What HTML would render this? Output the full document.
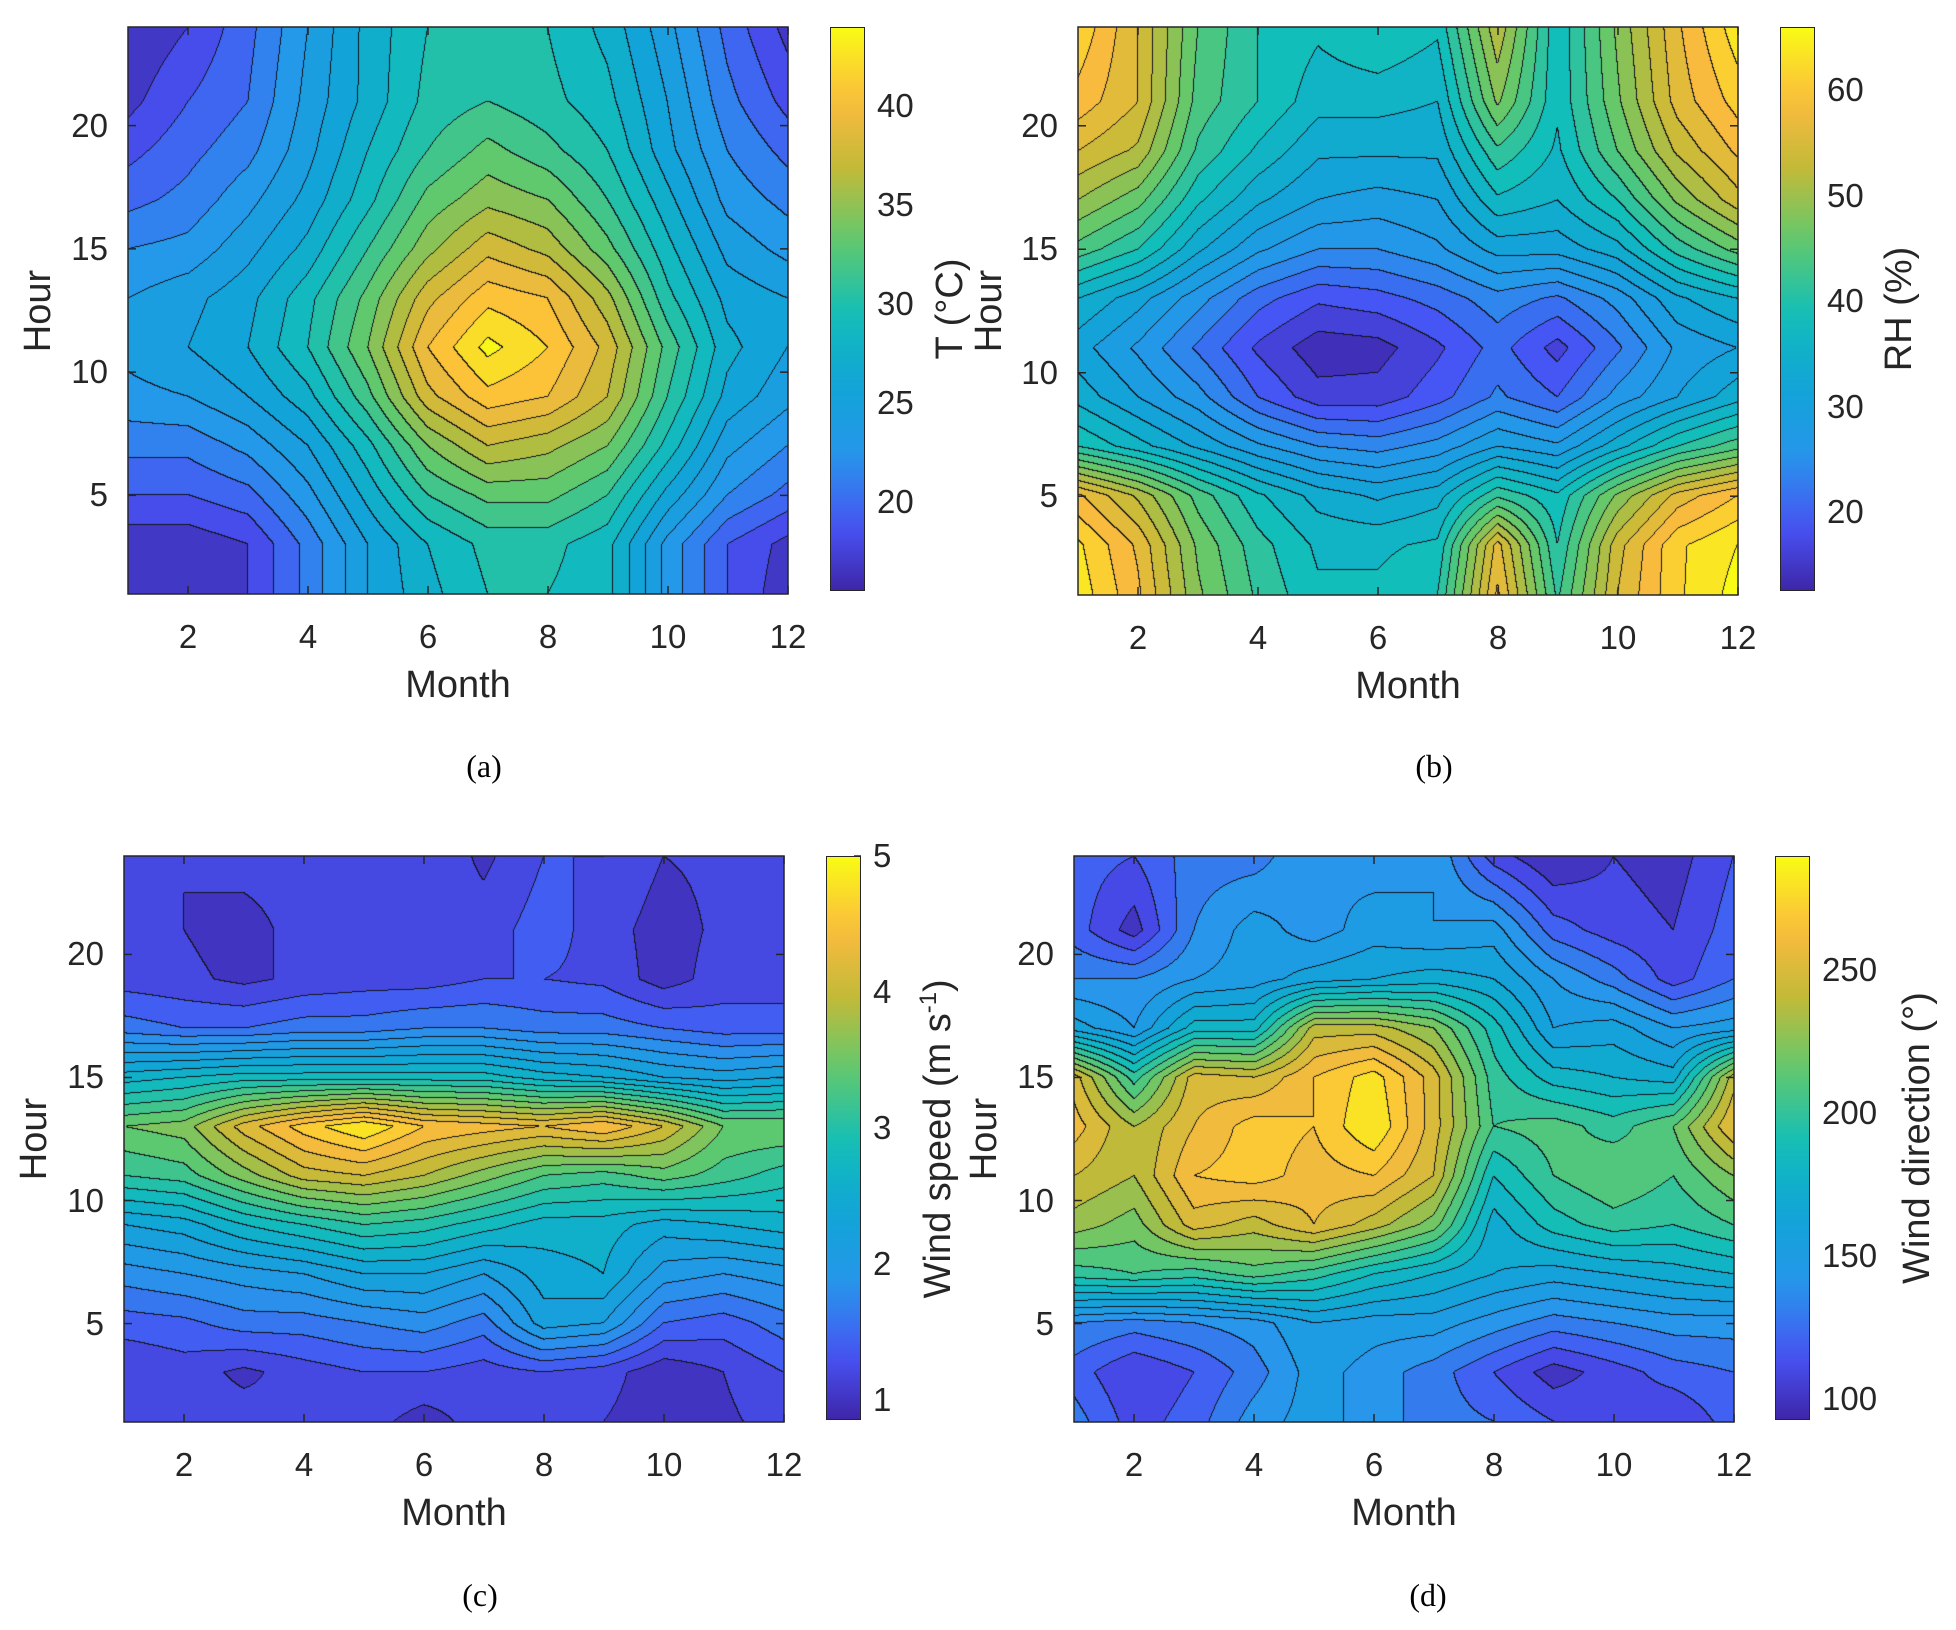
<!DOCTYPE html>
<html><head><meta charset="utf-8">
<style>
body{margin:0;background:#fff;width:1956px;height:1630px;position:relative;overflow:hidden;font-family:"Liberation Sans",Arial,sans-serif;color:#262626}
.abs{position:absolute}
.tk{position:absolute;font-size:33px;line-height:1;white-space:nowrap}
.lab{position:absolute;font-size:38px;line-height:1;white-space:nowrap}
.cap{position:absolute;font-family:"Liberation Serif",serif;font-size:32px;color:#000}
canvas{position:absolute}
</style></head>
<body>
<div id="root"></div>
<script>
// ---------- data ----------
const months=[1,2,3,4,5,6,7,8,9,10,11,12];
const hours=[1,3,5,7,9,11,13,15,17,19,21,24];
const xTicks=[2,4,6,8,10,12];
const yTicks=[5,10,15,20];
const tempGrid=[
[17,16.5,17.5,21,25,27.5,29.5,29.5,28.5,23,19,16.5],
[16.5,16.5,17.5,21,25,28,30,30,28.5,23,19,17],
[19,19,20,23,27,31,33,33,31,26,22,20],
[21,21,22.5,25,29,34,37,36,34,29,24,22],
[23,23.5,25,27.5,32,38,41,40,37,31,26,24],
[24,25,26.5,29.5,34,40,43.5,41.5,38,32,27,25],
[23.5,24.5,26,29,33,38,41,40,36,30,26,25],
[22,22.5,24.5,27,31,35,38,36.5,33,28.5,24.5,23],
[20,21,23,25.5,29,33,35,34,31,27,23,21.5],
[18.5,20,21.5,24.5,28,31,33,31.5,29.5,25.5,22,20],
[17,19,20.5,24,27,30,31,30,28.5,25,21,18.5],
[16,17.5,20,23.5,27,29.5,30,29.5,27.5,24,20,17]];
const rhGrid=[
[64,58,48,42,38,38,40,58,42,55,62,66],
[63,57,47,41,37,37,38,56,40,54,62,65],
[58,52,44,38,34,32,34,42,38,48,56,60],
[40,36,32,28,25,24,26,30,28,34,40,44],
[34,30,26,20,16,16,19,23,20,26,30,34],
[31,27,22,17,13.5,14,17,21,16.5,22,28,30],
[35,31,26,21,18,19,21,24,22,26,32,35],
[44,40,33,28,25,25,27,31,31,34,41,46],
[50,46,38,33,30,29,30,37,35,40,48,54],
[55,52,42,37,33,33,33,42,37,45,53,58],
[59,55,44,40,36,36,35,48,38,47,56,61],
[62,55,45,40,38,40,38,52,38,48,57,64]];
const wsGrid=[
[1.1,1.2,1.2,1.1,1.2,1.0,1.2,1.2,1.1,0.95,1.05,1.2],
[1.1,1.2,1.05,1.2,1.3,1.3,1.2,1.3,1.2,0.95,1.1,1.3],
[1.4,1.45,1.6,1.6,1.7,1.8,1.6,2.2,2.1,1.5,1.4,1.6],
[1.8,1.9,2.0,2.1,2.3,2.3,2.1,2.4,2.5,2.0,1.9,2.0],
[2.3,2.4,2.7,2.9,3.1,3.0,2.8,2.6,2.6,2.4,2.5,2.6],
[3.1,3.2,3.6,4.0,4.1,3.9,3.6,3.3,3.2,3.4,3.2,3.0],
[3.5,3.6,4.2,4.6,4.9,4.5,4.4,4.3,4.5,4.1,3.5,3.5],
[2.6,2.7,2.8,2.8,2.8,2.8,2.8,2.6,2.5,2.3,2.2,2.3],
[1.6,1.5,1.5,1.6,1.6,1.7,1.7,1.6,1.6,1.5,1.4,1.4],
[1.2,1.15,1.05,1.15,1.2,1.2,1.3,1.3,1.25,1.0,1.2,1.2],
[1.2,1.1,1.0,1.2,1.25,1.2,1.2,1.4,1.2,1.0,1.15,1.2],
[1.2,1.1,1.2,1.2,1.2,1.3,1.05,1.3,1.3,1.1,1.15,1.25]];
const wdGrid=[
[130,110,120,140,150,140,130,125,115,110,105,120],
[120,105,115,130,150,140,130,115,100,110,120,125],
[135,130,135,140,155,150,150,140,130,135,140,140],
[200,205,200,210,200,185,175,165,160,165,170,175],
[230,220,250,240,255,240,220,170,190,200,195,205],
[245,235,265,270,260,265,245,185,205,215,205,225],
[260,235,255,270,265,285,250,205,210,200,215,255],
[250,200,250,245,265,280,250,200,180,175,170,240],
[160,145,180,180,240,240,225,190,155,160,145,150],
[135,135,145,150,160,165,170,165,145,130,110,125],
[120,100,135,150,140,150,145,150,120,110,105,120],
[120,115,130,130,145,140,145,110,95,105,100,115]];
const tempTicks=[20,25,30,35,40];
const rhTicks=[20,30,40,50,60];
const wsTicks=[1,2,3,4,5];
const wdTicks=[100,150,200,250];

// ---------- colormap ----------
const PAR=[[0,62,38,168],[0.11,72,82,244],[0.24,39,150,235],[0.37,16,165,214],[0.49,18,190,185],[0.62,95,201,110],[0.75,194,186,56],[0.87,252,187,62],[1,249,251,21]];
function parula(t){t=Math.max(0,Math.min(1,t));for(let i=1;i<PAR.length;i++){if(t<=PAR[i][0]){const a=PAR[i-1],b=PAR[i],f=(t-a[0])/(b[0]-a[0]);return [a[1]+f*(b[1]-a[1]),a[2]+f*(b[2]-a[2]),a[3]+f*(b[3]-a[3])];}}return PAR[PAR.length-1].slice(1);}

function interp(grid,m,h){
  let j=0;while(j<hours.length-2&&h>hours[j+1])j++;
  let i=Math.min(10,Math.max(0,Math.floor(m-1)));
  const fx=Math.max(0,Math.min(1,m-months[i])),fy=Math.max(0,Math.min(1,(h-hours[j])/(hours[j+1]-hours[j])));
  const a=grid[j][i],b=grid[j][i+1],c=grid[j+1][i],d=grid[j+1][i+1];
  return a*(1-fx)*(1-fy)+b*fx*(1-fy)+c*(1-fx)*fy+d*fx*fy;
}

const root=document.getElementById('root');
function mk(tag,cls,name,inter){const e=document.createElement(tag);if(cls)e.className=cls;


root.appendChild(e);return e;}

function panel(p){
  const W=p.x1-p.x0,H=p.y1-p.y0;
  const xs=m=>p.x0+(m-1)/11*W, ys=h=>p.y1-(h-1)/23*H;
  const cv=mk('canvas','',p.id+'-contour-plot',false);
  cv.width=W;cv.height=H;cv.style.left=p.x0+'px';cv.style.top=p.y0+'px';
  const ctx=cv.getContext('2d');const img=ctx.createImageData(W,H);
  const band=new Int16Array(W*H);
  for(let y=0;y<H;y++){const h=1+23*(H-1-y)/(H-1);for(let x=0;x<W;x++){const m=1+11*x/(W-1);
    const v=interp(p.grid,m,h);band[y*W+x]=Math.floor((v-p.lmin)/p.step);}}
  for(let y=0;y<H;y++)for(let x=0;x<W;x++){const k=y*W+x,b=band[k];
    let c;const edge=(x<W-1&&band[k+1]!==b)||(y<H-1&&band[k+W]!==b);
    if(edge)c=[20,20,30];else{const mid=p.lmin+(b+0.5)*p.step;c=parula((mid-p.cmin)/(p.cmax-p.cmin));}
    img.data[k*4]=c[0];img.data[k*4+1]=c[1];img.data[k*4+2]=c[2];img.data[k*4+3]=255;}
  ctx.putImageData(img,0,0);
  const NS='http://www.w3.org/2000/svg';
  const svg=document.createElementNS(NS,'svg');
  
  
  svg.setAttribute('width',1956);svg.setAttribute('height',1630);
  svg.style.position='absolute';svg.style.left='0';svg.style.top='0';
  root.appendChild(svg);
  const line=(x1,y1,x2,y2)=>{const l=document.createElementNS(NS,'line');l.setAttribute('x1',x1);l.setAttribute('y1',y1);l.setAttribute('x2',x2);l.setAttribute('y2',y2);l.setAttribute('stroke','#262626');l.setAttribute('stroke-width','1.5');svg.appendChild(l);};
  const r=document.createElementNS(NS,'rect');r.setAttribute('x',p.x0);r.setAttribute('y',p.y0);r.setAttribute('width',W);r.setAttribute('height',H);r.setAttribute('fill','none');r.setAttribute('stroke','#262626');r.setAttribute('stroke-width','1.5');svg.appendChild(r);
  xTicks.forEach(t=>{const x=xs(t);line(x,p.y1,x,p.y1-8);line(x,p.y0,x,p.y0+8);
    const d=mk('div','tk',p.id+'-x-tick-'+t,false);d.textContent=t;d.style.left=(x-30)+'px';d.style.width='60px';d.style.textAlign='center';d.style.top=(p.y1+26)+'px';});
  yTicks.forEach(t=>{const y=ys(t);line(p.x0,y,p.x0+8,y);line(p.x1,y,p.x1-8,y);
    const d=mk('div','tk',p.id+'-y-tick-'+t,false);d.textContent=t;d.style.left=(p.x0-82)+'px';d.style.width='62px';d.style.textAlign='right';d.style.top=(y-17)+'px';});
  const xl=mk('div','lab',p.id+'-x-axis-title',false);xl.textContent='Month';xl.style.left=(p.x0+W/2-100)+'px';xl.style.width='200px';xl.style.textAlign='center';xl.style.top=(p.y1+72)+'px';
  const yl=mk('div','lab',p.id+'-y-axis-title',false);yl.textContent='Hour';yl.style.left=(p.hx-100)+'px';yl.style.width='200px';yl.style.textAlign='center';yl.style.top=((p.y0+p.y1)/2-19)+'px';yl.style.transform='rotate(-90deg)';
  const cb=mk('div','abs',p.id+'-colorbar',false);
  const cbH=p.cby1-p.y0;
  let stops=[];for(let i=0;i<=20;i++){const c=parula(i/20);stops.push('rgb('+c.map(Math.round).join(',')+') '+(100-i*5)+'%');}
  cb.style.cssText='position:absolute;left:'+p.cbx+'px;top:'+p.y0+'px;width:35px;height:'+cbH+'px;box-sizing:border-box;border:1.5px solid #262626;background:linear-gradient(to bottom,'+stops.reverse().join(',')+')';
  p.cticks.forEach(t=>{const y=p.cby1-(t-p.cmin)/(p.cmax-p.cmin)*cbH;
    line(p.cbx+35,y,p.cbx+28,y);
    const d=mk('div','tk',p.id+'-colorbar-tick-'+t,false);d.textContent=t;d.style.left=(p.cbx+47)+'px';d.style.top=(y-17)+'px';});
  const ct=mk('div','lab',p.id+'-colorbar-title',false);ct.innerHTML=p.ctitle;ct.style.left=(p.ctx-220)+'px';ct.style.width='440px';ct.style.textAlign='center';ct.style.top=((p.y0+p.cby1)/2-19)+'px';ct.style.transform='rotate(-90deg)';
  const cap=mk('div','cap',p.id+'-caption',false);cap.textContent=p.cap;cap.style.left=(p.capx-30)+'px';cap.style.width='60px';cap.style.textAlign='center';cap.style.top=(p.capy-18)+'px';
}
panel({id:'temperature',grid:tempGrid,x0:128,x1:788,y0:27,y1:594,lmin:16,step:1.5,cmin:15.5,cmax:44,cticks:tempTicks,cbx:830,cby1:591,ctitle:'T (°C)',ctx:950,hx:38,cap:'(a)',capx:484,capy:766});
panel({id:'humidity',grid:rhGrid,x0:1078,x1:1738,y0:27,y1:595,lmin:12.5,step:2.5,cmin:12.5,cmax:66,cticks:rhTicks,cbx:1780,cby1:591,ctitle:'RH (%)',ctx:1899,hx:989,cap:'(b)',capx:1434,capy:766});
panel({id:'wind-speed',grid:wsGrid,x0:124,x1:784,y0:856,y1:1422,lmin:0.9,step:0.2,cmin:0.85,cmax:5,cticks:wsTicks,cbx:826,cby1:1420,ctitle:'Wind speed (m s<sup style="font-size:24px">-1</sup>)',ctx:937,hx:34,cap:'(c)',capx:480,capy:1595});
panel({id:'wind-direction',grid:wdGrid,x0:1074,x1:1734,y0:856,y1:1422,lmin:95,step:10,cmin:92.6,cmax:290,cticks:wdTicks,cbx:1775,cby1:1420,ctitle:'Wind direction (°)',ctx:1917,hx:984,cap:'(d)',capx:1428,capy:1595});
</script>
</body></html>
